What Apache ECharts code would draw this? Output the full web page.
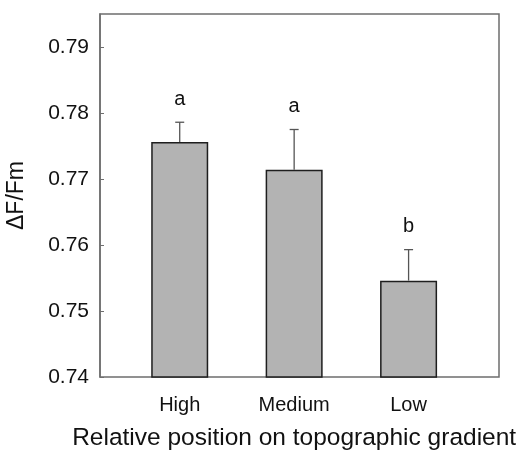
<!DOCTYPE html>
<html>
<head>
<meta charset="utf-8">
<script src="https://cdn.jsdelivr.net/npm/echarts@6/dist/echarts.min.js"></script>
<style>html,body{margin:0;padding:0;background:#fff}#c{width:526px;height:454px}</style>
</head>
<body>
<div id="c"></div>
<script>
var categories = ['High', 'Medium', 'Low'];
var means = [0.7756, 0.7714, 0.7546];
var upperErrors = [0.7786, 0.7775, 0.7593];
var letters = ['a', 'a', 'b'];
var yTicks = [0.74, 0.75, 0.76, 0.77, 0.78, 0.79];

var font = 'Liberation Sans, Arial, sans-serif';
var chart = echarts.init(document.getElementById('c'));
var errData = categories.map(function (c, i) { return [i, means[i], upperErrors[i], letters[i]]; });

chart.setOption({
  animation: false,
  grid: [
    { left: 100, right: 27, top: 14, bottom: 77, show: true, borderColor: '#6e6e6e', borderWidth: 1.5, backgroundColor: 'transparent', outerBoundsMode: 'none', containLabel: false },
    { left: 122.5, right: 60.2, top: 14, bottom: 77, outerBoundsMode: 'none', containLabel: false }
  ],
  xAxis: [
    { gridIndex: 0, type: 'value', show: false, min: 0, max: 1 },
    { gridIndex: 1, type: 'category', data: categories, boundaryGap: true,
      axisLine: { show: false }, axisTick: { show: false },
      axisLabel: { fontSize: 20, color: '#111', fontFamily: font, margin: 18 },
      name: 'Relative position on topographic gradient', nameLocation: 'middle', nameGap: 49,
      nameTextStyle: { fontSize: 24.5, color: '#111', fontFamily: font } }
  ],
  yAxis: [
    { gridIndex: 0, type: 'value', min: 0.74, max: 0.795, interval: 0.01,
      axisLine: { show: true, lineStyle: { color: '#6e6e6e', width: 1.5 } },
      axisTick: { show: true, inside: true, length: 4, lineStyle: { color: '#6e6e6e', width: 1 } },
      splitLine: { show: false },
      axisLabel: { fontSize: 21, color: '#111', fontFamily: font, margin: 11, showMaxLabel: false,
        formatter: function (v) { return yTicks.some(function (t) { return Math.abs(t - v) < 1e-6; }) ? v.toFixed(2) : ''; } },
      name: 'ΔF/Fm', nameLocation: 'middle', nameGap: 72, nameRotate: 90,
      nameTextStyle: { fontSize: 23, color: '#111', fontFamily: font } },
    { gridIndex: 1, type: 'value', min: 0.74, max: 0.795, show: false }
  ],
  series: [
    { type: 'bar', xAxisIndex: 1, yAxisIndex: 1, data: means, barWidth: 57,
      itemStyle: { color: '#b3b3b3', borderColor: '#1e1e1e', borderWidth: 1.5 } },
    { type: 'custom', xAxisIndex: 1, yAxisIndex: 1, data: errData, z: 5,
      renderItem: function (params, api) {
        var base = api.coord([api.value(0), api.value(1)]);
        var top = api.coord([api.value(0), api.value(2)]);
        var cap = 4.5;
        return {
          type: 'group',
          children: [
            { type: 'line', shape: { x1: top[0], y1: base[1], x2: top[0], y2: top[1] }, style: { stroke: '#555', lineWidth: 1.3 } },
            { type: 'line', shape: { x1: top[0] - cap, y1: top[1], x2: top[0] + cap, y2: top[1] }, style: { stroke: '#555', lineWidth: 1.3 } },
            { type: 'text', x: top[0], y: top[1] - 13, style: { text: letters[params.dataIndex], fontSize: 20, fontFamily: font, fill: '#111', align: 'center', verticalAlign: 'bottom' } }
          ]
        };
      }
    }
  ]
});
</script>
</body>
</html>
